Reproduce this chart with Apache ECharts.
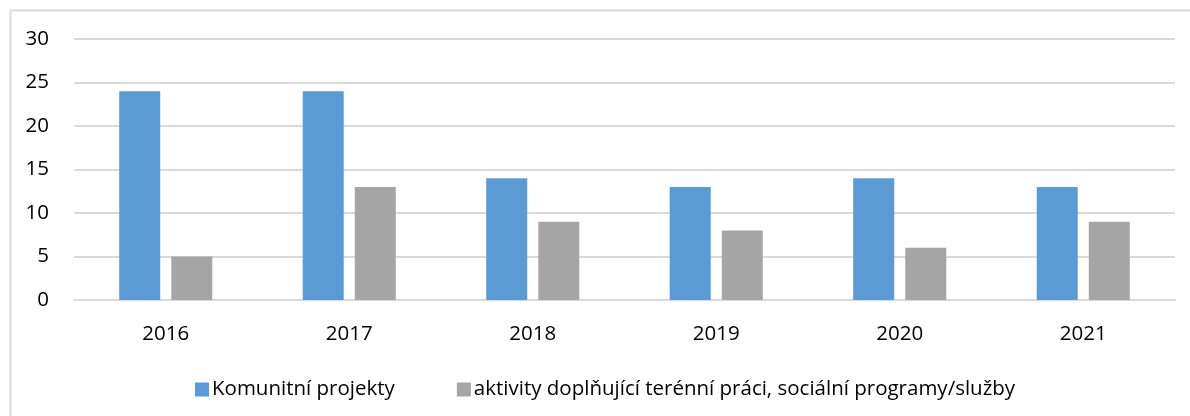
<!DOCTYPE html>
<html>
<head>
<meta charset="utf-8">
<style>
  html, body { margin: 0; padding: 0; background: #fff; }
  #chart { width: 1190px; height: 416px; }
</style>
<script src="https://cdn.jsdelivr.net/npm/echarts@6/dist/echarts.min.js"></script>
</head>
<body>
<div id="chart"></div>
<script>
// data
const years = ['2016', '2017', '2018', '2019', '2020', '2021']
const komunitniProjekty = [24, 24, 14, 13, 14, 13]
const aktivity = [5, 13, 9, 8, 6, 9]
const seriesNames = [
  'Komunitní projekty',
  'aktivity doplňující terénní práci, sociální programy/služby'
]

const chart = echarts.init(document.getElementById('chart'))
const font = '"Open Sans", sans-serif'

const option = {
  animation: false,
  textStyle: { fontFamily: font },
  graphic: [
    {
      // outer chart border
      type: 'rect',
      shape: { x: 10.5, y: 10.5, width: 1200, height: 420 },
      style: { fill: 'none', stroke: '#d9d9d9', lineWidth: 2 },
      silent: true
    }
  ],
  grid: {
    left: 74,
    right: 15,
    top: 39,
    bottom: 116
  },
  legend: {
    data: seriesNames,
    left: 190,
    top: 374,
    itemWidth: 14,
    itemHeight: 14,
    itemGap: 62,
    icon: 'rect',
    textStyle: { fontSize: 20.5, color: '#000', fontFamily: font, padding: [0, 0, 0, -2] }
  },
  xAxis: {
    type: 'category',
    data: years,
    axisLine: { lineStyle: { color: '#d9d9d9', width: 2 } },
    axisTick: { show: false },
    axisLabel: { fontSize: 20.5, color: '#000', margin: 24, fontFamily: font }
  },
  yAxis: {
    type: 'value',
    min: 0,
    max: 30,
    interval: 5,
    axisLine: { show: false },
    axisTick: { show: false },
    axisLabel: { fontSize: 20.5, color: '#000', margin: 25, fontFamily: font },
    splitLine: { lineStyle: { color: '#d9d9d9', width: 2 } }
  },
  series: [
    {
      name: seriesNames[0],
      type: 'bar',
      data: komunitniProjekty,
      barWidth: 41,
      barGap: '27%',
      itemStyle: { color: '#5b9bd5' }
    },
    {
      name: seriesNames[1],
      type: 'bar',
      data: aktivity,
      barWidth: 41,
      itemStyle: { color: '#a5a5a5' }
    }
  ]
}

chart.setOption(option)
</script>
</body>
</html>
